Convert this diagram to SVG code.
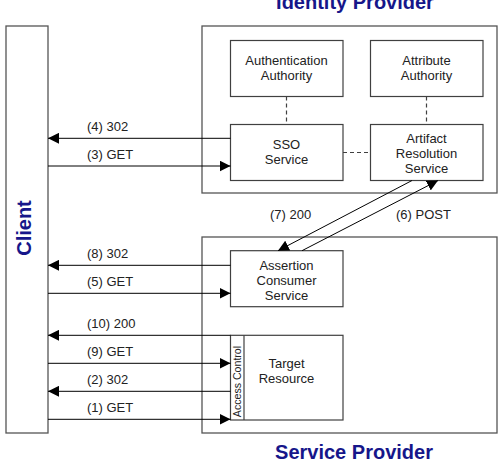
<svg xmlns="http://www.w3.org/2000/svg" width="501" height="465" viewBox="0 0 501 465">
<style>
.box{fill:#fff;stroke:#404040;stroke-width:1.2}
.outer{fill:#fff;stroke:#555;stroke-width:1.3}
.t{font-family:"Liberation Sans",Arial,sans-serif;font-size:13px;fill:#222;text-anchor:middle}
.lbl{font-family:"Liberation Sans",Arial,sans-serif;font-size:13px;fill:#222}
.title{font-family:"Liberation Sans",Arial,sans-serif;font-size:20px;font-weight:bold;fill:#16168a;text-anchor:middle}
.arr{stroke:#000;stroke-width:1;fill:none;marker-end:url(#ah)}
.dash{stroke:#404040;stroke-width:1.2;stroke-dasharray:4,3;fill:none}
</style>
<defs>
<marker id="ah" viewBox="0 0 11 11" refX="11" refY="5.5" markerWidth="11" markerHeight="11" markerUnits="userSpaceOnUse" orient="auto">
<path d="M0,0 L11,5.5 L0,11 Z" fill="#000"/>
</marker>
</defs>
<text class="title" x="355" y="9">Identity Provider</text>
<text class="title" x="354" y="459">Service Provider</text>
<g id="client">
<rect class="outer" x="6" y="26" width="42" height="407"/>
<text class="title" transform="translate(31,228) rotate(-90)">Client</text>
</g>
<g id="idp">
<rect class="outer" x="202" y="26" width="295" height="167"/>
</g>
<g id="sp">
<rect class="outer" x="202" y="237" width="295" height="196"/>
</g>
<g id="authn">
<rect class="box" x="230.5" y="40.5" width="112.5" height="56"/>
<text class="t" x="286.5" y="64.5">Authentication</text>
<text class="t" x="286.5" y="79.5">Authority</text>
</g>
<g id="attr">
<rect class="box" x="370.5" y="40.5" width="112.5" height="56"/>
<text class="t" x="426.5" y="64.5">Attribute</text>
<text class="t" x="426.5" y="79.5">Authority</text>
</g>
<g id="sso">
<rect class="box" x="230.5" y="124.5" width="112.5" height="56"/>
<text class="t" x="286.5" y="149">SSO</text>
<text class="t" x="286.5" y="164">Service</text>
</g>
<g id="ars">
<rect class="box" x="370.5" y="124.5" width="112.5" height="56"/>
<text class="t" x="426.5" y="142.5">Artifact</text>
<text class="t" x="426.5" y="157.5">Resolution</text>
<text class="t" x="426.5" y="172.5">Service</text>
</g>
<g id="acs">
<rect class="box" x="230.5" y="250.7" width="112.5" height="56"/>
<text class="t" x="286.5" y="270">Assertion</text>
<text class="t" x="286.5" y="285">Consumer</text>
<text class="t" x="286.5" y="300">Service</text>
</g>
<g id="target">
<rect class="box" x="230.5" y="335.3" width="112.5" height="84.7"/>
<line x1="244" y1="335.3" x2="244" y2="420" stroke="#404040" stroke-width="1.2"/>
<text style="font-family:'Liberation Sans',Arial,sans-serif;font-size:10.6px;fill:#222;text-anchor:middle" transform="translate(240.5,381.5) rotate(-90)">Access Control</text>
<text class="t" x="286.5" y="368">Target</text>
<text class="t" x="286.5" y="383">Resource</text>
</g>
<g id="connectors">
<line class="dash" x1="286.5" y1="96.5" x2="286.5" y2="124.5"/>
<line class="dash" x1="426.5" y1="96.5" x2="426.5" y2="124.5"/>
<line class="dash" x1="343" y1="152.5" x2="370.5" y2="152.5"/>
<line class="arr" x1="230.5" y1="138.3" x2="48" y2="138.3"/>
<line class="arr" x1="48" y1="166" x2="230.5" y2="166"/>
<line class="arr" x1="230.5" y1="265.3" x2="48" y2="265.3"/>
<line class="arr" x1="48" y1="293.3" x2="230.5" y2="293.3"/>
<line class="arr" x1="230.5" y1="335.3" x2="48" y2="335.3"/>
<line class="arr" x1="48" y1="363.3" x2="230.5" y2="363.3"/>
<line class="arr" x1="230.5" y1="391.3" x2="48" y2="391.3"/>
<line class="arr" x1="48" y1="419.3" x2="230.5" y2="419.3"/>
<line class="arr" x1="412" y1="180.5" x2="278" y2="250.7"/>
<line class="arr" x1="302" y1="250.7" x2="438" y2="180.5"/>
<text class="lbl" x="87" y="131">(4) 302</text>
<text class="lbl" x="87" y="159">(3) GET</text>
<text class="lbl" x="87" y="258">(8) 302</text>
<text class="lbl" x="87" y="286">(5) GET</text>
<text class="lbl" x="87" y="328">(10) 200</text>
<text class="lbl" x="87" y="356">(9) GET</text>
<text class="lbl" x="87" y="384">(2) 302</text>
<text class="lbl" x="87" y="412">(1) GET</text>
<text class="lbl" x="270" y="219">(7) 200</text>
<text class="lbl" x="396" y="219">(6) POST</text>
</g>
</svg>
